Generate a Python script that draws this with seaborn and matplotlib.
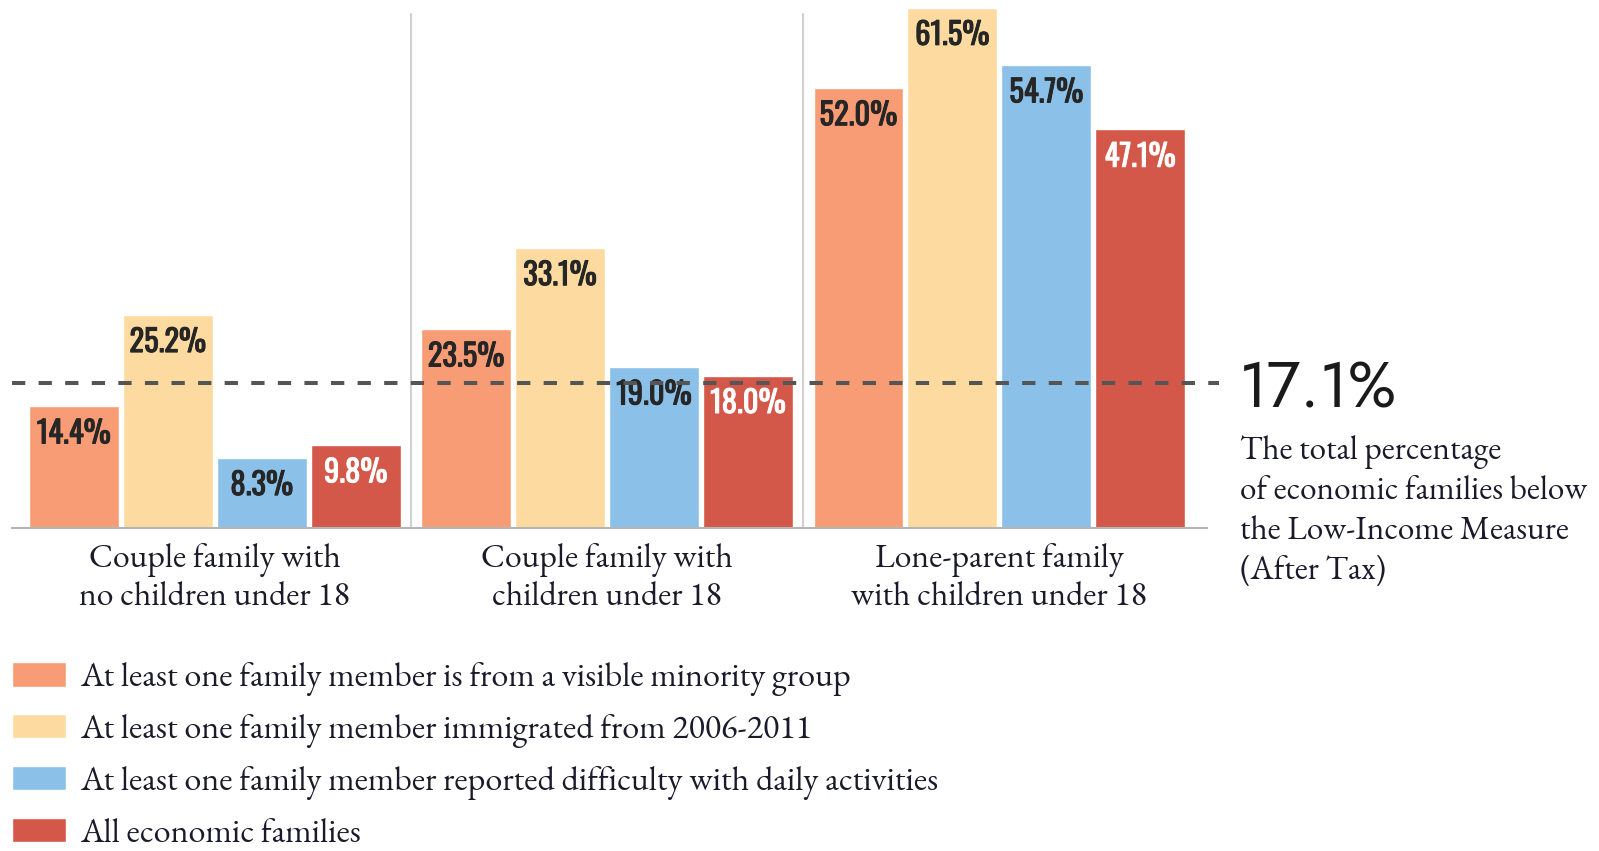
import pandas as pd
import matplotlib.pyplot as plt
import matplotlib.patheffects as pe
import seaborn as sns

# data
categories = ["Couple family with\nno children under 18",
              "Couple family with\nchildren under 18",
              "Lone-parent family\nwith children under 18"]
series_names = ["At least one family member is from a visible minority group",
                "At least one family member immigrated from 2006-2011",
                "At least one family member reported difficulty with daily activities",
                "All economic families"]
visible_minority = [14.4, 23.5, 52.0]
recent_immigrant = [25.2, 33.1, 61.5]
daily_difficulty = [8.3, 19.0, 54.7]
all_families = [9.8, 18.0, 47.1]
overall_rate = 17.1
note_text = "The total percentage\nof economic families below\nthe Low-Income Measure\n(After Tax)"

colors = ["#F79C74", "#FDDBA0", "#8BC1E9", "#D45849"]
label_colors = ["#262626", "#262626", "#262626", "white"]

values = [visible_minority, recent_immigrant, daily_difficulty, all_families]
rows = []
for name, vals in zip(series_names, values):
    for cat, v in zip(categories, vals):
        rows.append({"category": cat, "series": name, "value": v})
df = pd.DataFrame(rows)

sns.set_style("white")
serif = ["EB Garamond", "Liberation Serif", "DejaVu Serif"]
narrow = ["Oswald", "Roboto Condensed", "DejaVu Sans"]
big = ["Jost", "Roboto Condensed", "DejaVu Sans"]
text_col = "#1a1a2a"

fig = plt.figure(figsize=(15.99, 8.51), dpi=100)
ax = fig.add_axes([0.0075, 0.3795, 0.7475, 0.6205])

sns.barplot(data=df, x="category", y="value", hue="series",
            palette=colors, width=0.958, gap=0.044, ax=ax,
            saturation=1, order=categories, hue_order=series_names)

# value labels inside the top of each bar
for cont, lc in zip(ax.containers, label_colors):
    for bar in cont:
        h = bar.get_height()
        ax.annotate(f"{h:.1f}%", (bar.get_x() + bar.get_width() / 2, h),
                    xytext=(0, -20), textcoords="offset points",
                    ha="center", va="center", fontsize=22,
                    family=narrow, color=lc,
                    path_effects=[pe.withStroke(linewidth=0.7, foreground=lc)])

# group separators
for xs in [0.5, 1.5]:
    ax.plot([xs, xs], [0, 60.7], color="#d0d0d0", lw=1.5, zorder=0)

# overall rate line
ax.plot([-0.517, 2.56], [overall_rate, overall_rate], color="#555555",
        lw=2.9, dashes=(3.3, 3.3), clip_on=False, zorder=5)

ax.set_xlim(-0.517, 2.53)
ax.set_ylim(0, 62.4)
ax.set_yticks([])
ax.set_xlabel("")
ax.set_ylabel("")
ax.tick_params(axis="x", length=0, pad=11)
for t in ax.get_xticklabels():
    t.set_fontfamily(serif)
    t.set_fontsize(24.3)
    t.set_color(text_col)
    t.set_linespacing(1.2)
for s in ["top", "left", "right"]:
    ax.spines[s].set_visible(False)
ax.spines["bottom"].set_color("#b5b5b5")
ax.spines["bottom"].set_linewidth(1.5)

# annotation on the right
fig.text(1239 / 1599, 1 - 390 / 851, f"{overall_rate}%", fontsize=46,
         family=big, color="#1a1a1a", ha="left", va="center")
fig.text(1240 / 1599, 1 - 435 / 851, note_text, fontsize=24, family=serif,
         color=text_col, ha="left", va="top", linespacing=1.25)

# legend
handles, labels = ax.get_legend_handles_labels()
ax.get_legend().remove()
fig.legend(handles, labels, loc="upper left", bbox_to_anchor=(12 / 1599, 0.222),
           frameon=False, borderpad=0, borderaxespad=0, handlelength=1.6,
           handleheight=0.73, handletextpad=0.4, labelspacing=0.52,
           prop={"family": serif, "size": 24.5}, labelcolor=text_col)

fig.savefig("out.png", dpi=100)
